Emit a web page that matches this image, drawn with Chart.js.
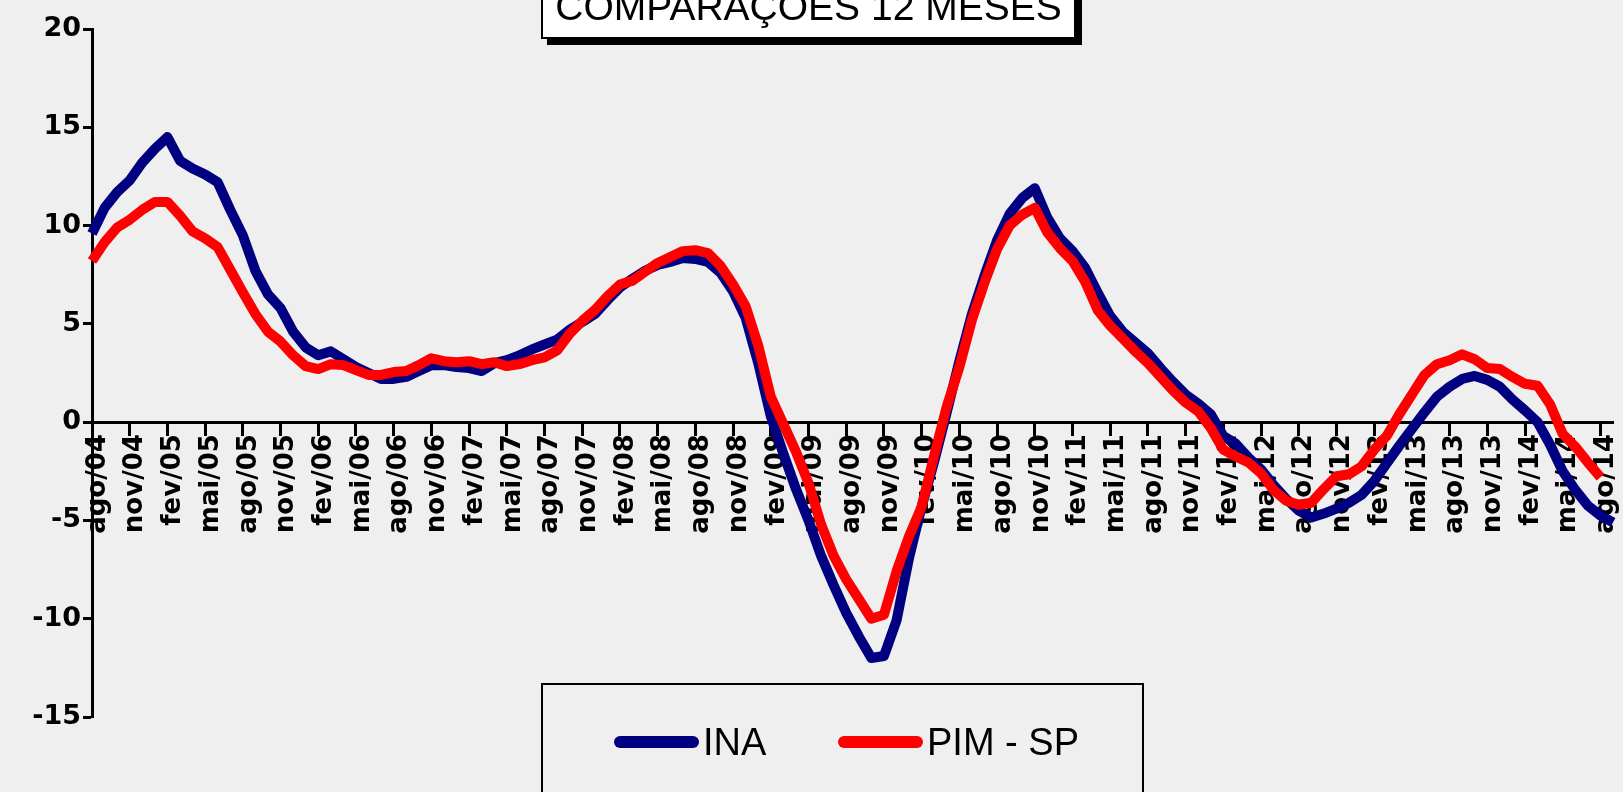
<!DOCTYPE html>
<html lang="pt-BR">
<head>
<meta charset="utf-8">
<title>INA x PIM-SP - comparações 12 meses</title>
<script src="https://cdn.jsdelivr.net/npm/chart.js@4.4.1/dist/chart.umd.min.js"></script>
<style>
  html, body { margin: 0; padding: 0; }
  body {
    width: 1623px; height: 792px; overflow: hidden; position: relative;
    background: #efefef;
    font-family: "Liberation Sans", Arial, sans-serif;
  }
  #chart { position: absolute; left: 0; top: 0; }
  .title-box {
    position: absolute; left: 541px; top: -14px; width: 531px; height: 49px;
    background: #fff; border: 2px solid #000; box-shadow: 6px 6px 0 #000;
    text-align: center; font-size: 39px; line-height: 38px; color: #000;
    white-space: nowrap;
  }
  .legend-box {
    position: absolute; left: 541px; top: 683px; width: 599px; height: 140px;
    border: 2px solid #000;
  }
  .legend-item {
    position: absolute; top: 57px; transform: translateY(-50%);
    display: flex; align-items: center;
    font-size: 38px; line-height: 38px; color: #000; white-space: nowrap;
  }
  .legend-line { width: 85px; height: 12px; border-radius: 6px; margin-right: 4px; }
</style>
</head>
<body>
<canvas id="chart" width="1623" height="792"></canvas>
<div class="title-box">COMPARAÇÕES 12 MESES</div>
<div class="legend-box" id="legend"></div>

<script>
// month names (pt-BR), series run from ago/04 to set/14
const monthNames = ['jan', 'fev', 'mar', 'abr', 'mai', 'jun', 'jul', 'ago', 'set', 'out', 'nov', 'dez'];
const firstMonth = 7;   // ago
const firstYear = 4;    // 2004
const monthCount = 122;

const months = [];
for (let k = 0; k < monthCount; k++) {
    const m = (firstMonth + k) % 12;
    const y = firstYear + Math.floor((firstMonth + k) / 12);
    months.push(monthNames[m] + '/' + String(y).padStart(2, '0'));
}

// INA - variação acumulada 12 meses (%)
const inaValues = [
    9.6, 10.9, 11.7, 12.3, 13.2, 13.9, 14.5, 13.3, 12.9, 12.6,
    12.2, 10.8, 9.5, 7.7, 6.5, 5.8, 4.6, 3.8, 3.4, 3.6,
    3.2, 2.8, 2.5, 2.2, 2.2, 2.3, 2.6, 2.9, 2.9, 2.8,
    2.75, 2.6, 3.0, 3.15, 3.4, 3.7, 3.95, 4.2, 4.7, 5.1,
    5.5, 6.2, 6.85, 7.3, 7.7, 8.0, 8.15, 8.35, 8.3, 8.15,
    7.6, 6.65, 5.3, 3.0, 0.3, -1.6, -3.4, -5.0, -6.8, -8.3,
    -9.7, -10.9, -12.0, -11.9, -10.1, -6.9, -4.3, -2.0, 0.5, 3.1,
    5.5, 7.45, 9.25, 10.6, 11.4, 11.9, 10.4, 9.35, 8.7, 7.85,
    6.6, 5.4, 4.6, 4.05, 3.5, 2.75, 2.05, 1.4, 0.95, 0.4,
    -0.7, -1.1, -1.8, -2.4, -3.2, -3.9, -4.5, -4.85, -4.65, -4.4,
    -4.1, -3.7, -3.0, -2.1, -1.2, -0.35, 0.5, 1.3, 1.8, 2.2,
    2.35, 2.15, 1.8, 1.15, 0.6, 0.0, -1.15, -2.5, -3.45, -4.25,
    -4.75, -5.1
];

// PIM - SP - variação acumulada 12 meses (%)
const pimValues = [
    8.2, 9.15, 9.9, 10.3, 10.8, 11.2, 11.2, 10.5, 9.7, 9.35,
    8.9, 7.75, 6.6, 5.5, 4.6, 4.1, 3.4, 2.85, 2.7, 2.95,
    2.9, 2.65, 2.4, 2.4, 2.55, 2.6, 2.9, 3.25, 3.1, 3.05,
    3.1, 2.95, 3.05, 2.85, 2.95, 3.15, 3.3, 3.65, 4.5, 5.15,
    5.7, 6.4, 7.0, 7.2, 7.65, 8.1, 8.4, 8.7, 8.75, 8.6,
    7.95, 7.0, 5.9, 3.9, 1.3, -0.1, -1.5, -3.1, -5.2, -6.8,
    -8.0, -9.0, -10.0, -9.8, -7.6, -5.8, -4.3, -1.7, 0.8, 2.8,
    5.2, 7.1, 8.8, 10.0, 10.55, 10.9, 9.65, 8.85, 8.2, 7.15,
    5.7, 4.9, 4.25, 3.6, 3.0, 2.3, 1.6, 1.0, 0.55, -0.3,
    -1.4, -1.75, -2.05, -2.6, -3.45, -4.0, -4.2, -4.1, -3.4, -2.75,
    -2.65, -2.25, -1.4, -0.7, 0.4, 1.4, 2.4, 2.95, 3.15, 3.45,
    3.2, 2.75, 2.7, 2.3, 1.95, 1.85, 0.9, -0.6, -1.25, -2.05,
    -2.8, null
];

const seriesNames = ['INA', 'PIM - SP'];
const seriesColors = ['#000080', '#ff0000'];

const yMin = -15;
const yMax = 20;
const yStep = 5;
const labelEvery = 3;

const axisFont = '"DejaVu Sans", "Liberation Sans", Arial, sans-serif';
const showTick = ctx => ctx.index % labelEvery === 0 ? '#000' : 'rgba(0,0,0,0)';

new Chart(document.getElementById('chart'), {
    type: 'line',
    data: {
        labels: months,
        datasets: [
            {
                label: seriesNames[0],
                data: inaValues,
                borderColor: seriesColors[0],
                backgroundColor: seriesColors[0],
                order: 1
            },
            {
                label: seriesNames[1],
                data: pimValues,
                borderColor: seriesColors[1],
                backgroundColor: seriesColors[1],
                order: 0
            }
        ]
    },
    options: {
        responsive: false,
        animation: false,
        devicePixelRatio: 1,
        layout: {
            padding: { left: 0, top: 29, right: 10, bottom: 75 }
        },
        elements: {
            line: { borderWidth: 10, tension: 0, borderJoinStyle: 'round', fill: false },
            point: { radius: 0, hoverRadius: 0 }
        },
        plugins: {
            legend: { display: false },
            title: { display: false },
            tooltip: { enabled: false }
        },
        scales: {
            x: {
                position: { y: 0 },
                offset: false,
                // axis sits on y = 0, so it takes no room at the bottom
                afterFit(scale) {
                    scale.height = 0;
                    scale.paddingLeft = 0;
                    scale.paddingRight = 0;
                },
                border: { display: true, color: '#000', width: 3 },
                grid: {
                    drawOnChartArea: false,
                    drawTicks: true,
                    tickLength: 12,
                    color: showTick,
                    tickColor: showTick,
                    tickWidth: 3
                },
                ticks: {
                    autoSkip: false,
                    minRotation: 90,
                    maxRotation: 90,
                    padding: 0,
                    labelOffset: 6,
                    color: '#000',
                    font: { family: axisFont, size: 26, weight: 'bold' },
                    callback: function (value, index) {
                        return index % labelEvery === 0 ? this.getLabelForValue(value) : '';
                    }
                }
            },
            y: {
                min: yMin,
                max: yMax,
                afterFit(scale) {
                    scale.width = 92;
                },
                border: { display: true, color: '#000', width: 3 },
                grid: {
                    drawOnChartArea: false,
                    drawTicks: true,
                    tickLength: 9,
                    color: '#000',
                    tickWidth: 3
                },
                ticks: {
                    stepSize: yStep,
                    padding: 2,
                    color: '#000',
                    font: { family: axisFont, size: 27, weight: 'bold' }
                }
            }
        }
    }
});

// legend box drawn in HTML, same order as the reference
const legendBox = document.getElementById('legend');
const legendLeft = [71, 295];
seriesNames.forEach((name, i) => {
    const item = document.createElement('div');
    item.className = 'legend-item';
    item.style.left = legendLeft[i] + 'px';
    const line = document.createElement('span');
    line.className = 'legend-line';
    line.style.background = seriesColors[i];
    const text = document.createElement('span');
    text.textContent = name;
    item.appendChild(line);
    item.appendChild(text);
    legendBox.appendChild(item);
});
</script>
</body>
</html>
